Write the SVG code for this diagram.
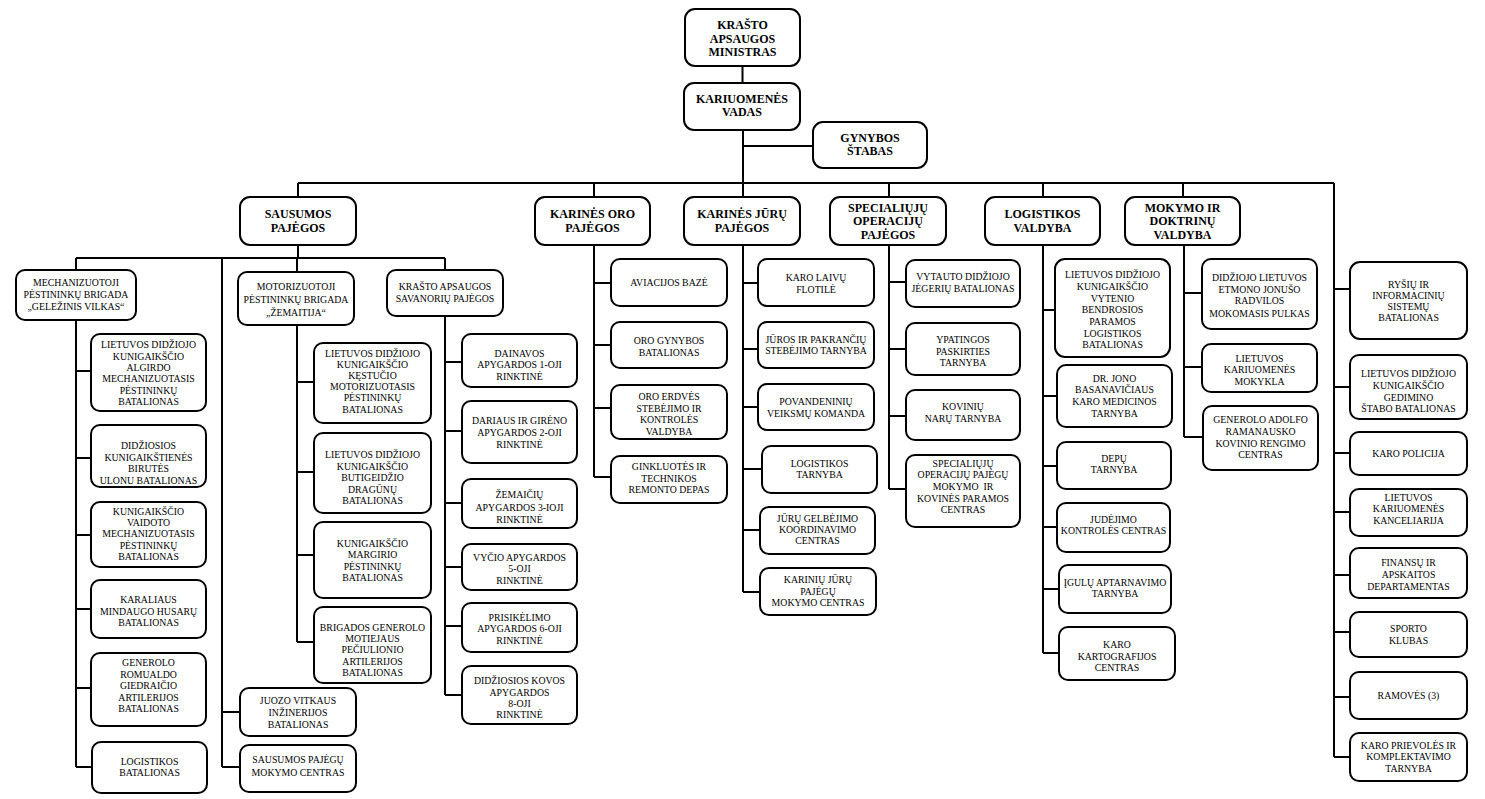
<svg xmlns="http://www.w3.org/2000/svg" width="1485" height="799" viewBox="0 0 1485 799">
<style>
rect{fill:#fff;stroke:#000;stroke-width:2}
text{fill:#000;text-anchor:middle;font-family:'Liberation Serif',serif}
.h{font-size:12px;font-weight:bold}
.t{font-size:9.8px}
#conn path{fill:none;stroke:#000;stroke-width:2}
</style>
<rect x="0" y="0" width="1485" height="799" style="stroke:none"/>
<g id="conn">
<path d="M742.5 66V83M743 130V197M743 146H813M298 183H1334M298 183V197M594 183V197M889 183V197M1043 183V197M1183 183V197M1334 183V757"/>
<path d="M298 245V258M76 258H445M76 258V270M297 258V272M445 258V270M222 258V767"/>
<path d="M76 320V767M76 371H91M76 458H91M76 535H91M76 609H91M76 688H91M76 767H92"/>
<path d="M297 325V642M297 382H314M297 472H314M297 555H314M297 642H314"/>
<path d="M222 712H240M222 767H240"/>
<path d="M445 316V695M445 362H462M445 431H462M445 503H462M445 567H462M445 626H462M445 695H462"/>
<path d="M594 245V477M594 283H611M594 345H611M594 408H611M594 477H611"/>
<path d="M743 245V592M743 283H758M743 349H758M743 407H758M743 469H762M743 530H760M743 592H760"/>
<path d="M889 245V489M889 282H906M889 349H906M889 416H906M889 489H906"/>
<path d="M1043 245V653M1043 310H1055M1043 396H1057M1043 466H1057M1043 527H1057M1043 589H1059M1043 653H1059"/>
<path d="M1184 245V437M1184 293H1202M1184 367H1202M1184 437H1203"/>
<path d="M1334 289H1350M1334 387H1350M1334 453H1350M1334 512H1350M1334 575H1350M1334 632H1350M1334 697H1350M1334 757H1350"/>
</g>
<g id="n_min"><rect x="685" y="9" width="115" height="57" rx="10"/><text class="h" font-family="Liberation Serif"><tspan x="742.5" y="29">KRAŠTO</tspan><tspan x="742.5" y="42.5">APSAUGOS</tspan><tspan x="742.5" y="56">MINISTRAS</tspan></text></g>
<g id="n_vadas"><rect x="684" y="83" width="116" height="47" rx="10"/><text class="h" font-family="Liberation Serif"><tspan x="742" y="103">KARIUOMENĖS</tspan><tspan x="742" y="116">VADAS</tspan></text></g>
<g id="n_gs"><rect x="813" y="122" width="114" height="46" rx="10"/><text class="h" font-family="Liberation Serif"><tspan x="870" y="141.5">GYNYBOS</tspan><tspan x="870" y="154.5">ŠTABAS</tspan></text></g>

<g id="n_sp"><rect x="240" y="197" width="116" height="48" rx="10"/><text class="h" font-family="Liberation Serif"><tspan x="298" y="218">SAUSUMOS</tspan><tspan x="298" y="232">PAJĖGOS</tspan></text></g>
<g id="n_kop"><rect x="535" y="197" width="115" height="48" rx="10"/><text class="h" font-family="Liberation Serif"><tspan x="592.5" y="218">KARINĖS ORO</tspan><tspan x="592.5" y="232">PAJĖGOS</tspan></text></g>
<g id="n_kjp"><rect x="684" y="197" width="116" height="48" rx="10"/><text class="h" font-family="Liberation Serif"><tspan x="742" y="218">KARINĖS JŪRŲ</tspan><tspan x="742" y="232">PAJĖGOS</tspan></text></g>
<g id="n_sop"><rect x="830" y="197" width="116" height="48" rx="10"/><text class="h" font-family="Liberation Serif"><tspan x="888" y="211.5">SPECIALIŲJŲ</tspan><tspan x="888" y="225">OPERACIJŲ</tspan><tspan x="888" y="238.5">PAJĖGOS</tspan></text></g>
<g id="n_lv"><rect x="985" y="197" width="115" height="48" rx="10"/><text class="h" font-family="Liberation Serif"><tspan x="1042.5" y="218">LOGISTIKOS</tspan><tspan x="1042.5" y="232">VALDYBA</tspan></text></g>
<g id="n_mdv"><rect x="1125" y="197" width="115" height="48" rx="10"/><text class="h" font-family="Liberation Serif"><tspan x="1182.5" y="211.5">MOKYMO IR</tspan><tspan x="1182.5" y="225">DOKTRINŲ</tspan><tspan x="1182.5" y="238.5">VALDYBA</tspan></text></g>

<g id="n_mech"><rect x="16" y="270" width="120" height="50" rx="9"/><text class="t" font-family="Liberation Serif"><tspan x="76" y="286.3">MECHANIZUOTOJI</tspan><tspan x="76" y="298.3">PĖSTININKŲ BRIGADA</tspan><tspan x="76" y="310.3">„GELEŽINIS VILKAS“</tspan></text></g>
<g id="n_moto"><rect x="238" y="272" width="116" height="53" rx="9"/><text class="t" font-family="Liberation Serif"><tspan x="296" y="290.3">MOTORIZUOTOJI</tspan><tspan x="296" y="303.3">PĖSTININKŲ BRIGADA</tspan><tspan x="296" y="316.3">„ŽEMAITIJA“</tspan></text></g>
<g id="n_kas"><rect x="387" y="270" width="116" height="46" rx="9"/><text class="t" font-family="Liberation Serif"><tspan x="445" y="290.3">KRAŠTO APSAUGOS</tspan><tspan x="445" y="302.3">SAVANORIŲ PAJĖGOS</tspan></text></g>

<g id="n_m1"><rect x="91" y="334" width="115" height="77" rx="9"/><text class="t" font-family="Liberation Serif"><tspan x="148.5" y="348.3">LIETUVOS DIDŽIOJO</tspan><tspan x="148.5" y="359.6">KUNIGAIKŠČIO</tspan><tspan x="148.5" y="370.9">ALGIRDO</tspan><tspan x="148.5" y="382.2">MECHANIZUOTASIS</tspan><tspan x="148.5" y="393.5">PĖSTININKŲ</tspan><tspan x="148.5" y="404.8">BATALIONAS</tspan></text></g>
<g id="n_m2"><rect x="91" y="425" width="115" height="62" rx="9"/><text class="t" font-family="Liberation Serif"><tspan x="148.5" y="449.3">DIDŽIOSIOS</tspan><tspan x="148.5" y="460.8">KUNIGAIKŠTIENĖS</tspan><tspan x="148.5" y="472.3">BIRUTĖS</tspan><tspan x="148.5" y="483.8">ULONU BATALIONAS</tspan></text></g>
<g id="n_m3"><rect x="91" y="502" width="115" height="65" rx="9"/><text class="t" font-family="Liberation Serif"><tspan x="148.5" y="515">KUNIGAIKŠČIO</tspan><tspan x="148.5" y="526.2">VAIDOTO</tspan><tspan x="148.5" y="537.4">MECHANIZUOTASIS</tspan><tspan x="148.5" y="548.6">PĖSTININKŲ</tspan><tspan x="148.5" y="559.8">BATALIONAS</tspan></text></g>
<g id="n_m4"><rect x="91" y="580" width="115" height="58" rx="9"/><text class="t" font-family="Liberation Serif"><tspan x="148.5" y="603.3">KARALIAUS</tspan><tspan x="148.5" y="614.8">MINDAUGO HUSARŲ</tspan><tspan x="148.5" y="626.3">BATALIONAS</tspan></text></g>
<g id="n_m5"><rect x="91" y="653" width="115" height="73" rx="9"/><text class="t" font-family="Liberation Serif"><tspan x="148.5" y="666">GENEROLO</tspan><tspan x="148.5" y="677.6">ROMUALDO</tspan><tspan x="148.5" y="689.2">GIEDRAIČIO</tspan><tspan x="148.5" y="700.8">ARTILERIJOS</tspan><tspan x="148.5" y="712.4">BATALIONAS</tspan></text></g>
<g id="n_m6"><rect x="92" y="742" width="115" height="51" rx="9"/><text class="t" font-family="Liberation Serif"><tspan x="149.5" y="765">LOGISTIKOS</tspan><tspan x="149.5" y="776">BATALIONAS</tspan></text></g>

<g id="n_z1"><rect x="314" y="343" width="117" height="80" rx="9"/><text class="t" font-family="Liberation Serif"><tspan x="372.5" y="356.6">LIETUVOS DIDŽIOJO</tspan><tspan x="372.5" y="367.8">KUNIGAIKŠČIO</tspan><tspan x="372.5" y="379">KĘSTUČIO</tspan><tspan x="372.5" y="390.2">MOTORIZUOTASIS</tspan><tspan x="372.5" y="401.4">PĖSTININKŲ</tspan><tspan x="372.5" y="412.6">BATALIONAS</tspan></text></g>
<g id="n_z2"><rect x="314" y="433" width="117" height="80" rx="9"/><text class="t" font-family="Liberation Serif"><tspan x="372.5" y="458.3">LIETUVOS DIDŽIOJO</tspan><tspan x="372.5" y="469.7">KUNIGAIKŠČIO</tspan><tspan x="372.5" y="481.1">BUTIGEIDŽIO</tspan><tspan x="372.5" y="492.5">DRAGŪNŲ</tspan><tspan x="372.5" y="503.9">BATALIONAS</tspan></text></g>
<g id="n_z3"><rect x="314" y="522" width="117" height="76" rx="9"/><text class="t" font-family="Liberation Serif"><tspan x="372.5" y="546.6">KUNIGAIKŠČIO</tspan><tspan x="372.5" y="558.2">MARGIRIO</tspan><tspan x="372.5" y="569.8">PĖSTININKŲ</tspan><tspan x="372.5" y="581.4">BATALIONAS</tspan></text></g>
<g id="n_z4"><rect x="314" y="607" width="117" height="76" rx="9"/><text class="t" font-family="Liberation Serif"><tspan x="372.5" y="630.6">BRIGADOS GENEROLO</tspan><tspan x="372.5" y="642">MOTIEJAUS</tspan><tspan x="372.5" y="653.4">PEČIULIONIO</tspan><tspan x="372.5" y="664.8">ARTILERIJOS</tspan><tspan x="372.5" y="676.2">BATALIONAS</tspan></text></g>
<g id="n_s1"><rect x="240" y="688" width="116" height="48" rx="9"/><text class="t" font-family="Liberation Serif"><tspan x="298" y="704">JUOZO VITKAUS</tspan><tspan x="298" y="716.2">INŽINERIJOS</tspan><tspan x="298" y="728.4">BATALIONAS</tspan></text></g>
<g id="n_s2"><rect x="240" y="745" width="116" height="47" rx="9"/><text class="t" font-family="Liberation Serif"><tspan x="298" y="763.3">SAUSUMOS PAJĖGŲ</tspan><tspan x="298" y="775.8">MOKYMO CENTRAS</tspan></text></g>

<g id="n_k1"><rect x="462" y="334" width="115" height="53" rx="9"/><text class="t" font-family="Liberation Serif"><tspan x="519.5" y="356.6">DAINAVOS</tspan><tspan x="519.5" y="368.2">APYGARDOS 1-OJI</tspan><tspan x="519.5" y="379.8">RINKTINĖ</tspan></text></g>
<g id="n_k2"><rect x="462" y="401" width="115" height="62" rx="9"/><text class="t" font-family="Liberation Serif"><tspan x="519.5" y="424">DARIAUS IR GIRĖNO</tspan><tspan x="519.5" y="435.8">APYGARDOS 2-OJI</tspan><tspan x="519.5" y="447.6">RINKTINĖ</tspan></text></g>
<g id="n_k3"><rect x="462" y="479" width="115" height="49" rx="9"/><text class="t" font-family="Liberation Serif"><tspan x="519.5" y="498.3">ŽEMAIČIŲ</tspan><tspan x="519.5" y="511">APYGARDOS 3-IOJI</tspan><tspan x="519.5" y="522.6">RINKTINĖ</tspan></text></g>
<g id="n_k4"><rect x="462" y="544" width="115" height="46" rx="9"/><text class="t" font-family="Liberation Serif"><tspan x="519.5" y="560.6">VYČIO APYGARDOS</tspan><tspan x="519.5" y="572.4">5-OJI</tspan><tspan x="519.5" y="584">RINKTINĖ</tspan></text></g>
<g id="n_k5"><rect x="462" y="603" width="115" height="49" rx="9"/><text class="t" font-family="Liberation Serif"><tspan x="519.5" y="620.6">PRISIKĖLIMO</tspan><tspan x="519.5" y="632.4">APYGARDOS 6-OJI</tspan><tspan x="519.5" y="644">RINKTINĖ</tspan></text></g>
<g id="n_k6"><rect x="462" y="666" width="115" height="58" rx="9"/><text class="t" font-family="Liberation Serif"><tspan x="519.5" y="684">DIDŽIOSIOS KOVOS</tspan><tspan x="519.5" y="695.6">APYGARDOS</tspan><tspan x="519.5" y="707">8-OJI</tspan><tspan x="519.5" y="718">RINKTINĖ</tspan></text></g>

<g id="n_o1"><rect x="611" y="259" width="116" height="47" rx="9"/><text class="t" font-family="Liberation Serif"><tspan x="669" y="286">AVIACIJOS BAZĖ</tspan></text></g>
<g id="n_o2"><rect x="611" y="322" width="116" height="46" rx="9"/><text class="t" font-family="Liberation Serif"><tspan x="669" y="344">ORO GYNYBOS</tspan><tspan x="669" y="355.6">BATALIONAS</tspan></text></g>
<g id="n_o3"><rect x="611" y="385" width="116" height="54" rx="9"/><text class="t" font-family="Liberation Serif"><tspan x="669" y="400">ORO ERDVĖS</tspan><tspan x="669" y="411.6">STEBĖJIMO IR</tspan><tspan x="669" y="423.2">KONTROLĖS</tspan><tspan x="669" y="434.8">VALDYBA</tspan></text></g>
<g id="n_o4"><rect x="611" y="456" width="116" height="47" rx="9"/><text class="t" font-family="Liberation Serif"><tspan x="669" y="470">GINKLUOTĖS IR</tspan><tspan x="669" y="481.6">TECHNIKOS</tspan><tspan x="669" y="492.6">REMONTO DEPAS</tspan></text></g>

<g id="n_j1"><rect x="758" y="259" width="116" height="47" rx="9"/><text class="t" font-family="Liberation Serif"><tspan x="816" y="280.6">KARO LAIVŲ</tspan><tspan x="816" y="292.6">FLOTILĖ</tspan></text></g>
<g id="n_j2"><rect x="758" y="322" width="116" height="46" rx="9"/><text class="t" font-family="Liberation Serif"><tspan x="816" y="343.3">JŪROS IR PAKRANČIŲ</tspan><tspan x="816" y="354.3">STEBĖJIMO TARNYBA</tspan></text></g>
<g id="n_j3"><rect x="758" y="384" width="116" height="46" rx="9"/><text class="t" font-family="Liberation Serif"><tspan x="816" y="405">POVANDENINIŲ</tspan><tspan x="816" y="416.6">VEIKSMŲ KOMANDA</tspan></text></g>
<g id="n_j4"><rect x="762" y="446" width="115" height="47" rx="9"/><text class="t" font-family="Liberation Serif"><tspan x="819.5" y="466.6">LOGISTIKOS</tspan><tspan x="819.5" y="478.3">TARNYBA</tspan></text></g>
<g id="n_j5"><rect x="760" y="507" width="115" height="47" rx="9"/><text class="t" font-family="Liberation Serif"><tspan x="817.5" y="521.6">JŪRŲ GELBĖJIMO</tspan><tspan x="817.5" y="532.8">KOORDINAVIMO</tspan><tspan x="817.5" y="544">CENTRAS</tspan></text></g>
<g id="n_j6"><rect x="760" y="568" width="116" height="47" rx="9"/><text class="t" font-family="Liberation Serif"><tspan x="818" y="583.3">KARINIŲ JŪRŲ</tspan><tspan x="818" y="595">PAJĖGŲ</tspan><tspan x="818" y="606">MOKYMO CENTRAS</tspan></text></g>

<g id="n_q1"><rect x="906" y="260" width="114" height="47" rx="9"/><text class="t" font-family="Liberation Serif"><tspan x="963" y="280">VYTAUTO DIDŽIOJO</tspan><tspan x="963" y="291.6">JĖGERIŲ BATALIONAS</tspan></text></g>
<g id="n_q2"><rect x="906" y="323" width="114" height="52" rx="9"/><text class="t" font-family="Liberation Serif"><tspan x="963" y="343.3">YPATINGOS</tspan><tspan x="963" y="355">PASKIRTIES</tspan><tspan x="963" y="366.3">TARNYBA</tspan></text></g>
<g id="n_q3"><rect x="906" y="390" width="114" height="50" rx="9"/><text class="t" font-family="Liberation Serif"><tspan x="963" y="410">KOVINIŲ</tspan><tspan x="963" y="421.6">NARŲ TARNYBA</tspan></text></g>
<g id="n_q4"><rect x="906" y="455" width="114" height="72" rx="9"/><text class="t" font-family="Liberation Serif" xml:space="preserve"><tspan x="963" y="466.6">SPECIALIŲJŲ</tspan><tspan x="963" y="478.3">OPERACIJŲ PAJĖGŲ</tspan><tspan x="963" y="490">MOKYMO  IR</tspan><tspan x="963" y="501.6">KOVINĖS PARAMOS</tspan><tspan x="963" y="513.3">CENTRAS</tspan></text></g>

<g id="n_l1"><rect x="1055" y="259" width="115" height="98" rx="10"/><text class="t" font-family="Liberation Serif"><tspan x="1112.5" y="278.3">LIETUVOS DIDŽIOJO</tspan><tspan x="1112.5" y="290">KUNIGAIKŠČIO</tspan><tspan x="1112.5" y="301.6">VYTENIO</tspan><tspan x="1112.5" y="313.3">BENDROSIOS</tspan><tspan x="1112.5" y="325">PARAMOS</tspan><tspan x="1112.5" y="336.6">LOGISTIKOS</tspan><tspan x="1112.5" y="347.8">BATALIONAS</tspan></text></g>
<g id="n_l2"><rect x="1057" y="365" width="115" height="62" rx="9"/><text class="t" font-family="Liberation Serif"><tspan x="1114.5" y="381.6">DR. JONO</tspan><tspan x="1114.5" y="393.3">BASANAVIČIAUS</tspan><tspan x="1114.5" y="405">KARO MEDICINOS</tspan><tspan x="1114.5" y="416.6">TARNYBA</tspan></text></g>
<g id="n_l3"><rect x="1057" y="442" width="114" height="47" rx="9"/><text class="t" font-family="Liberation Serif"><tspan x="1114" y="461.6">DEPŲ</tspan><tspan x="1114" y="473.3">TARNYBA</tspan></text></g>
<g id="n_l4"><rect x="1057" y="503" width="113" height="49" rx="9"/><text class="t" font-family="Liberation Serif"><tspan x="1113.5" y="522.6">JUDĖJIMO</tspan><tspan x="1113.5" y="534.3">KONTROLĖS CENTRAS</tspan></text></g>
<g id="n_l5"><rect x="1059" y="565" width="112" height="48" rx="9"/><text class="t" font-family="Liberation Serif"><tspan x="1115" y="586">ĮGULŲ APTARNAVIMO</tspan><tspan x="1115" y="597.3">TARNYBA</tspan></text></g>
<g id="n_l6"><rect x="1059" y="627" width="116" height="53" rx="9"/><text class="t" font-family="Liberation Serif"><tspan x="1117" y="648.3">KARO</tspan><tspan x="1117" y="660">KARTOGRAFIJOS</tspan><tspan x="1117" y="671">CENTRAS</tspan></text></g>

<g id="n_d1"><rect x="1202" y="259" width="115" height="70" rx="9"/><text class="t" font-family="Liberation Serif"><tspan x="1259.5" y="280.6">DIDŽIOJO LIETUVOS</tspan><tspan x="1259.5" y="292.6">ETMONO JONUŠO</tspan><tspan x="1259.5" y="304">RADVILOS</tspan><tspan x="1259.5" y="316.6">MOKOMASIS PULKAS</tspan></text></g>
<g id="n_d2"><rect x="1202" y="344" width="115" height="48" rx="9"/><text class="t" font-family="Liberation Serif"><tspan x="1259.5" y="361.6">LIETUVOS</tspan><tspan x="1259.5" y="373.3">KARIUOMENĖS</tspan><tspan x="1259.5" y="385">MOKYKLA</tspan></text></g>
<g id="n_d3"><rect x="1203" y="406" width="115" height="64" rx="9"/><text class="t" font-family="Liberation Serif"><tspan x="1260.5" y="423.3">GENEROLO ADOLFO</tspan><tspan x="1260.5" y="435">RAMANAUSKO</tspan><tspan x="1260.5" y="446.6">KOVINIO RENGIMO</tspan><tspan x="1260.5" y="458.3">CENTRAS</tspan></text></g>

<g id="n_r1"><rect x="1350" y="262" width="117" height="77" rx="10"/><text class="t" font-family="Liberation Serif"><tspan x="1408.5" y="287.6">RYŠIŲ IR</tspan><tspan x="1408.5" y="299">INFORMACINIŲ</tspan><tspan x="1408.5" y="310.2">SISTEMŲ</tspan><tspan x="1408.5" y="320.6">BATALIONAS</tspan></text></g>
<g id="n_r2"><rect x="1350" y="355" width="117" height="64" rx="9"/><text class="t" font-family="Liberation Serif"><tspan x="1408.5" y="377.3">LIETUVOS DIDŽIOJO</tspan><tspan x="1408.5" y="389.3">KUNIGAIKŠČIO</tspan><tspan x="1408.5" y="400.6">GEDIMINO</tspan><tspan x="1408.5" y="412.3">ŠTABO BATALIONAS</tspan></text></g>
<g id="n_r3"><rect x="1350" y="432" width="117" height="43" rx="9"/><text class="t" font-family="Liberation Serif"><tspan x="1408.5" y="456.6">KARO POLICIJA</tspan></text></g>
<g id="n_r4"><rect x="1350" y="489" width="117" height="47" rx="9"/><text class="t" font-family="Liberation Serif"><tspan x="1408.5" y="500.6">LIETUVOS</tspan><tspan x="1408.5" y="512.3">KARIUOMENĖS</tspan><tspan x="1408.5" y="524">KANCELIARIJA</tspan></text></g>
<g id="n_r5"><rect x="1350" y="548" width="117" height="50" rx="9"/><text class="t" font-family="Liberation Serif"><tspan x="1408.5" y="566">FINANSŲ IR</tspan><tspan x="1408.5" y="578">APSKAITOS</tspan><tspan x="1408.5" y="590">DEPARTAMENTAS</tspan></text></g>
<g id="n_r6"><rect x="1350" y="612" width="117" height="45" rx="9"/><text class="t" font-family="Liberation Serif"><tspan x="1408.5" y="632">SPORTO</tspan><tspan x="1408.5" y="644">KLUBAS</tspan></text></g>
<g id="n_r7"><rect x="1350" y="672" width="117" height="47" rx="9"/><text class="t" font-family="Liberation Serif"><tspan x="1408.5" y="698.6">RAMOVĖS (3)</tspan></text></g>
<g id="n_r8"><rect x="1350" y="733" width="117" height="48" rx="9"/><text class="t" font-family="Liberation Serif"><tspan x="1408.5" y="748.6">KARO PRIEVOLĖS IR</tspan><tspan x="1408.5" y="760.3">KOMPLEKTAVIMO</tspan><tspan x="1408.5" y="771.6">TARNYBA</tspan></text></g>
</svg>
